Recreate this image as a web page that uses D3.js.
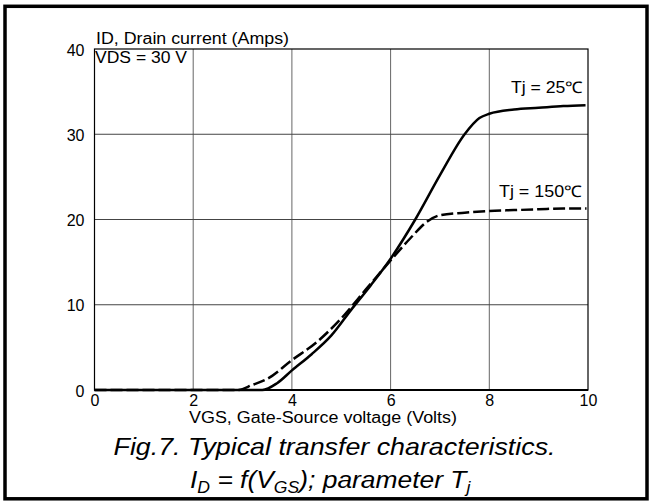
<!DOCTYPE html>
<html>
<head>
<meta charset="utf-8">
<script src="https://cdn.jsdelivr.net/npm/d3@7"></script>
<style>
  body { margin: 0; background: #fff; }
  text { font-family: "Liberation Sans", Arial, Helvetica, sans-serif; fill: #000; }
</style>
</head>
<body>
<script>
// Data (VGS in volts, ID in amps)

let vgs25 = [0, 1, 2, 3, 3.4, 3.7, 4.0, 4.4, 4.8, 5.2, 5.6, 6.0, 6.5, 7.0, 7.5, 7.8, 8.0, 8.5, 9.0, 9.5, 9.95]
let id25 = [0, 0, 0, 0, 0, 0.8, 2.3, 4.2, 6.4, 9.4, 12.3, 15.4, 20.0, 25.2, 30.0, 31.9, 32.4, 32.9, 33.1, 33.3, 33.4]

let vgs150 = [0, 1, 2, 2.9, 3.2, 3.5, 4.0, 4.5, 5.0, 5.5, 6.0, 6.4, 6.75, 7.0, 7.5, 8.0, 8.5, 9.0, 9.5, 9.97]
let id150 = [0, 0, 0, 0, 0.6, 1.3, 3.5, 5.6, 8.4, 11.8, 15.2, 17.8, 19.8, 20.5, 20.8, 21.0, 21.1, 21.2, 21.3, 21.3]

let xTicks = [0, 2, 4, 6, 8, 10]
let yTicks = [0, 10, 20, 30, 40]

let seriesLabels = ['Tj = 25℃', 'Tj = 150℃']

// Container sizing

let width = 652
let height = 501

let margin = {
    left: 94.5,
    top: 49,
    right: 64,
    bottom: 111
}

let chartWidth = width - margin.left - margin.right
let chartHeight = height - margin.top - margin.bottom

let svg = d3.select('body')
    .append('svg')
    .attr('width', width)
    .attr('height', height)

// outer frame
svg.append('rect')
    .attr('x', 5)
    .attr('y', 6.3)
    .attr('width', 642)
    .attr('height', 492.5)
    .attr('fill', 'none')
    .attr('stroke', '#000')
    .attr('stroke-width', 3.5)

let chartGroup = svg.append('g')
    .attr('transform', `translate(${margin.left}, ${margin.top})`)

// Scales

let xScale = d3.scaleLinear()
    .domain([0, 10])
    .range([0, chartWidth])

let yScale = d3.scaleLinear()
    .domain([0, 40])
    .range([chartHeight, 0])

// Grid lines
chartGroup.selectAll('.vgrid')
    .data(xTicks.slice(1, -1))
    .join('line')
    .attr('x1', d => xScale(d))
    .attr('x2', d => xScale(d))
    .attr('y1', 0)
    .attr('y2', chartHeight)
    .attr('stroke', '#666')
    .attr('stroke-width', 1)

chartGroup.selectAll('.hgrid')
    .data(yTicks.slice(1, -1))
    .join('line')
    .attr('x1', 0)
    .attr('x2', chartWidth)
    .attr('y1', d => yScale(d))
    .attr('y2', d => yScale(d))
    .attr('stroke', '#444')
    .attr('stroke-width', 1)

// plot border
chartGroup.append('rect')
    .attr('width', chartWidth)
    .attr('height', chartHeight)
    .attr('fill', 'none')
    .attr('stroke', '#000')
    .attr('stroke-width', 1.2)

chartGroup.append('line')
    .attr('x1', 0)
    .attr('x2', chartWidth)
    .attr('y1', chartHeight)
    .attr('y2', chartHeight)
    .attr('stroke', '#000')
    .attr('stroke-width', 2)

// Axes (labels only, the frame is drawn above)
let xAxis = d3.axisBottom(xScale).tickValues(xTicks).tickSize(0).tickPadding(5)
let yAxis = d3.axisLeft(yScale).tickValues(yTicks).tickSize(0).tickPadding(10)

let xAxisG = chartGroup.append('g')
    .attr('transform', `translate(0, ${chartHeight})`)
    .call(xAxis)

let yAxisG = chartGroup.append('g')
    .call(yAxis)

;[xAxisG, yAxisG].forEach(g => {
    g.select('.domain').remove()
    g.selectAll('text')
        .attr('font-family', '"Liberation Sans", Arial, sans-serif')
        .attr('font-size', 16)
        .attr('fill', '#000')
})
yAxisG.selectAll('text').attr('dy', '0.38em')
xAxisG.selectAll('text').attr('dy', '0.68em')

// Curves
let line = d3.line()
    .x(d => xScale(d[0]))
    .y(d => yScale(d[1]))
    .curve(d3.curveMonotoneX)

chartGroup.append('path')
    .datum(d3.zip(vgs25, id25))
    .attr('d', line)
    .attr('fill', 'none')
    .attr('stroke', '#000')
    .attr('stroke-width', 2.5)

chartGroup.append('path')
    .datum(d3.zip(vgs150, id150))
    .attr('d', line)
    .attr('fill', 'none')
    .attr('stroke', '#000')
    .attr('stroke-width', 2.5)
    .attr('stroke-dasharray', '12,4')

// Text labels
function label(txt, x, y, size, len, italic) {
    let t = svg.append('text')
        .attr('x', x)
        .attr('y', y)
        .attr('font-size', size)
        .text(txt)
    if (len) t.attr('textLength', len).attr('lengthAdjust', 'spacingAndGlyphs')
    if (italic) t.attr('font-style', 'italic')
    return t
}

label('ID, Drain current (Amps)', 96, 44, 16, 193)
label('VDS = 30 V', 95, 63, 16, 92)
label(seriesLabels[0], 511, 93, 16, 72)
label(seriesLabels[1], 499, 197, 16, 83)
label('VGS, Gate-Source voltage (Volts)', 189, 423, 16, 268)
label('Fig.7.  Typical transfer characteristics.', 113.5, 455, 24, 442, true)

// second caption line with subscripts, stretched a little like the scan
let cap2 = svg.append('text')
    .attr('transform', 'translate(190, 488) scale(1.1, 1)')
    .attr('font-size', 24)
    .attr('font-style', 'italic')
cap2.append('tspan').text('I')
cap2.append('tspan').attr('font-size', 16).attr('dy', 5).text('D')
cap2.append('tspan').attr('dy', -5).text(' = f(V')
cap2.append('tspan').attr('font-size', 16).attr('dy', 5).text('GS')
cap2.append('tspan').attr('dy', -5).text('); parameter T')
cap2.append('tspan').attr('font-size', 16).attr('dy', 5).text('j')
</script>
</body>
</html>
